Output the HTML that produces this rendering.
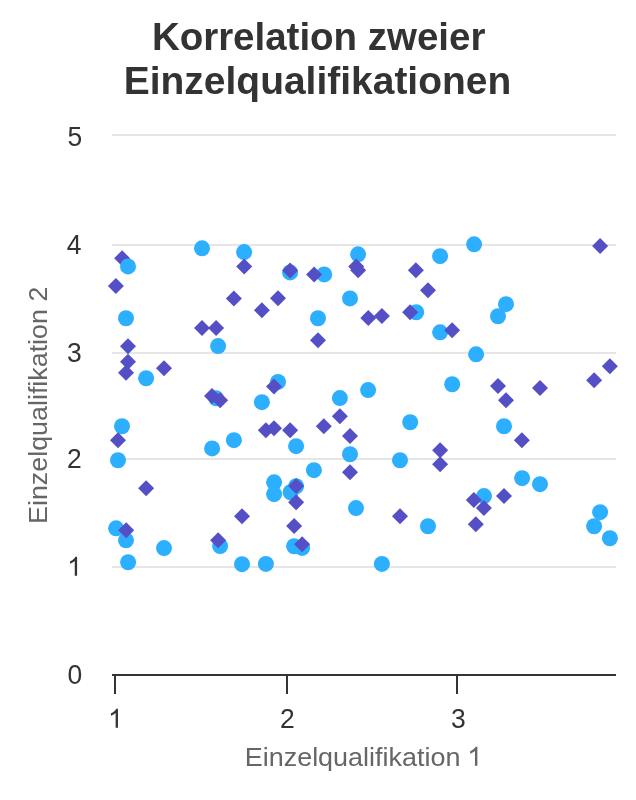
<!DOCTYPE html>
<html><head><meta charset="utf-8"><style>
html,body{margin:0;padding:0;background:#ffffff;width:636px;height:800px;overflow:hidden}
svg{display:block;will-change:transform}
</style></head><body>
<svg width="636" height="800" viewBox="0 0 636 800">
<rect width="636" height="800" fill="#ffffff"/>
<g fill="none" stroke="#e6e6e6" stroke-width="2">
<path d="M112 135H616"/>
<path d="M112 245H616"/>
<path d="M112 353H616"/>
<path d="M112 459H616"/>
<path d="M112 567H616"/>
</g>
<g fill="none" stroke="#333333" stroke-width="2">
<path d="M112 675H616"/>
<path d="M115 674V694"/>
<path d="M287 674V694"/>
<path d="M457 674V694"/>
</g>
<g fill="#544fc5"><path d="M122.1 250.25L130.1 258.25L122.1 266.25L114.1 258.25Z"/></g>
<g fill="#2caffe"><circle cx="202.0" cy="248.35" r="8"/><circle cx="244.1" cy="252.05" r="8"/><circle cx="126.0" cy="318.25" r="8"/><circle cx="218.1" cy="346.05" r="8"/><circle cx="290.1" cy="272.45" r="8"/><circle cx="324.2" cy="274.45" r="8"/><circle cx="358.1" cy="254.35" r="8"/><circle cx="350.0" cy="298.45" r="8"/><circle cx="318.0" cy="318.25" r="8"/><circle cx="474.1" cy="244.35" r="8"/><circle cx="440.1" cy="256.15" r="8"/><circle cx="416.2" cy="312.25" r="8"/><circle cx="506.0" cy="304.15" r="8"/><circle cx="498.0" cy="316.25" r="8"/><circle cx="440.1" cy="332.35" r="8"/><circle cx="146.1" cy="378.25" r="8"/><circle cx="216.1" cy="398.35" r="8"/><circle cx="122.0" cy="426.25" r="8"/><circle cx="212.1" cy="448.45" r="8"/><circle cx="233.9" cy="440.15" r="8"/><circle cx="278.0" cy="381.95" r="8"/><circle cx="261.9" cy="402.15" r="8"/><circle cx="296.1" cy="446.15" r="8"/><circle cx="339.9" cy="398.05" r="8"/><circle cx="368.1" cy="390.05" r="8"/><circle cx="350.0" cy="454.25" r="8"/><circle cx="410.2" cy="422.25" r="8"/><circle cx="476.1" cy="354.35" r="8"/><circle cx="452.2" cy="384.25" r="8"/><circle cx="504.0" cy="426.25" r="8"/><circle cx="118.0" cy="460.25" r="8"/><circle cx="116.1" cy="528.35" r="8"/><circle cx="126.0" cy="540.35" r="8"/><circle cx="164.0" cy="548.05" r="8"/><circle cx="128.1" cy="562.25" r="8"/><circle cx="220.1" cy="546.05" r="8"/><circle cx="242.0" cy="564.15" r="8"/><circle cx="313.9" cy="470.15" r="8"/><circle cx="274.1" cy="482.35" r="8"/><circle cx="274.1" cy="494.2" r="8"/><circle cx="296.1" cy="486.25" r="8"/><circle cx="290.6" cy="492.25" r="8"/><circle cx="294.1" cy="546.25" r="8"/><circle cx="302.1" cy="547.95" r="8"/><circle cx="400.0" cy="460.25" r="8"/><circle cx="356.0" cy="508.05" r="8"/><circle cx="265.9" cy="563.95" r="8"/><circle cx="381.9" cy="563.95" r="8"/><circle cx="428.0" cy="526.25" r="8"/><circle cx="522.1" cy="478.15" r="8"/><circle cx="540.0" cy="484.15" r="8"/><circle cx="484.0" cy="496.05" r="8"/><circle cx="600.1" cy="512.15" r="8"/><circle cx="594.1" cy="526.25" r="8"/><circle cx="609.9" cy="538.25" r="8"/><circle cx="128.0" cy="266.45" r="8"/></g>
<g fill="#544fc5"><path d="M244.2 258.45L252.2 266.45L244.2 274.45L236.2 266.45Z"/><path d="M115.9 278.05L123.9 286.05L115.9 294.05L107.9 286.05Z"/><path d="M233.9 290.45L241.9 298.45L233.9 306.45L225.9 298.45Z"/><path d="M202.0 320.05L210.0 328.05L202.0 336.05L194.0 328.05Z"/><path d="M216.1 320.05L224.1 328.05L216.1 336.05L208.1 328.05Z"/><path d="M128.0 338.25L136.0 346.25L128.0 354.25L120.0 346.25Z"/><path d="M290.1 262.45L298.1 270.45L290.1 278.45L282.1 270.45Z"/><path d="M314.1 266.45L322.1 274.45L314.1 282.45L306.1 274.45Z"/><path d="M356.2 258.55L364.2 266.55L356.2 274.55L348.2 266.55Z"/><path d="M358.1 262.35L366.1 270.35L358.1 278.35L350.1 270.35Z"/><path d="M278.0 290.15L286.0 298.15L278.0 306.15L270.0 298.15Z"/><path d="M261.9 302.25L269.9 310.25L261.9 318.25L253.9 310.25Z"/><path d="M368.3 310.05L376.3 318.05L368.3 326.05L360.3 318.05Z"/><path d="M381.9 308.05L389.9 316.05L381.9 324.05L373.9 316.05Z"/><path d="M318.0 332.25L326.0 340.25L318.0 348.25L310.0 340.25Z"/><path d="M415.9 262.25L423.9 270.25L415.9 278.25L407.9 270.25Z"/><path d="M428.0 282.15L436.0 290.15L428.0 298.15L420.0 290.15Z"/><path d="M410.1 304.35L418.1 312.35L410.1 320.35L402.1 312.35Z"/><path d="M452.1 322.25L460.1 330.25L452.1 338.25L444.1 330.25Z"/><path d="M600.1 238.05L608.1 246.05L600.1 254.05L592.1 246.05Z"/><path d="M128.0 353.65L136.0 361.65L128.0 369.65L120.0 361.65Z"/><path d="M126.0 364.65L134.0 372.65L126.0 380.65L118.0 372.65Z"/><path d="M164.0 360.15L172.0 368.15L164.0 376.15L156.0 368.15Z"/><path d="M212.0 388.05L220.0 396.05L212.0 404.05L204.0 396.05Z"/><path d="M220.1 392.15L228.1 400.15L220.1 408.15L212.1 400.15Z"/><path d="M118.0 432.15L126.0 440.15L118.0 448.15L110.0 440.15Z"/><path d="M274.0 378.55L282.0 386.55L274.0 394.55L266.0 386.55Z"/><path d="M265.9 422.25L273.9 430.25L265.9 438.25L257.9 430.25Z"/><path d="M274.0 420.25L282.0 428.25L274.0 436.25L266.0 428.25Z"/><path d="M290.1 422.25L298.1 430.25L290.1 438.25L282.1 430.25Z"/><path d="M323.8 418.25L331.8 426.25L323.8 434.25L315.8 426.25Z"/><path d="M339.9 408.25L347.9 416.25L339.9 424.25L331.9 416.25Z"/><path d="M350.0 428.05L358.0 436.05L350.0 444.05L342.0 436.05Z"/><path d="M498.0 378.05L506.0 386.05L498.0 394.05L490.0 386.05Z"/><path d="M506.0 392.15L514.0 400.15L506.0 408.15L498.0 400.15Z"/><path d="M540.0 380.05L548.0 388.05L540.0 396.05L532.0 388.05Z"/><path d="M521.9 432.15L529.9 440.15L521.9 448.15L513.9 440.15Z"/><path d="M440.1 442.15L448.1 450.15L440.1 458.15L432.1 450.15Z"/><path d="M609.9 358.15L617.9 366.15L609.9 374.15L601.9 366.15Z"/><path d="M594.1 372.25L602.1 380.25L594.1 388.25L586.1 380.25Z"/><path d="M146.1 480.25L154.1 488.25L146.1 496.25L138.1 488.25Z"/><path d="M126.2 522.25L134.2 530.25L126.2 538.25L118.2 530.25Z"/><path d="M218.1 532.25L226.1 540.25L218.1 548.25L210.1 540.25Z"/><path d="M242.0 508.15L250.0 516.15L242.0 524.15L234.0 516.15Z"/><path d="M296.1 478.05L304.1 486.05L296.1 494.05L288.1 486.05Z"/><path d="M296.1 494.35L304.1 502.35L296.1 510.35L288.1 502.35Z"/><path d="M294.1 518.05L302.1 526.05L294.1 534.05L286.1 526.05Z"/><path d="M302.1 536.2L310.1 544.2L302.1 552.2L294.1 544.2Z"/><path d="M350.0 464.15L358.0 472.15L350.0 480.15L342.0 472.15Z"/><path d="M400.0 508.15L408.0 516.15L400.0 524.15L392.0 516.15Z"/><path d="M440.1 456.35L448.1 464.35L440.1 472.35L432.1 464.35Z"/><path d="M473.8 492.05L481.8 500.05L473.8 508.05L465.8 500.05Z"/><path d="M483.9 500.05L491.9 508.05L483.9 516.05L475.9 508.05Z"/><path d="M504.0 488.05L512.0 496.05L504.0 504.05L496.0 496.05Z"/><path d="M475.8 516.15L483.8 524.15L475.8 532.15L467.8 524.15Z"/></g>
<g>
<text transform="translate(67.439,145.801) scale(1.00000,1.04700)" font-family="&quot;Liberation Sans&quot;, sans-serif" font-size="26.5" fill="#333333">5</text>
<text transform="translate(66.837,253.700) scale(1.00000,1.04700)" font-family="&quot;Liberation Sans&quot;, sans-serif" font-size="26.5" fill="#333333">4</text>
<text transform="translate(67.098,361.815) scale(1.00000,1.04700)" font-family="&quot;Liberation Sans&quot;, sans-serif" font-size="26.5" fill="#333333">3</text>
<text transform="translate(66.988,467.800) scale(1.00000,1.04700)" font-family="&quot;Liberation Sans&quot;, sans-serif" font-size="26.5" fill="#333333">2</text>
<path transform="translate(67.211,575.800) scale(1.00000,1.00000) scale(0.012939,-0.012939)" fill="#333333" d="M763 0L583 0L583 1147C540 1106 483 1065 413 1024C343 983 280 952 223 931L223 1120C321 1166 406 1221 480 1286C554 1351 606 1405 637 1466L763 1466Z"/>
<text transform="translate(67.510,683.836) scale(1.00000,1.04700)" font-family="&quot;Liberation Sans&quot;, sans-serif" font-size="26.5" fill="#333333">0</text>
<path transform="translate(108.086,727.800) scale(1.00000,1.00000) scale(0.012939,-0.012939)" fill="#333333" d="M763 0L583 0L583 1147C540 1106 483 1065 413 1024C343 983 280 952 223 931L223 1120C321 1166 406 1221 480 1286C554 1351 606 1405 637 1466L763 1466Z"/>
<text transform="translate(280.088,727.800) scale(1.00000,1.04700)" font-family="&quot;Liberation Sans&quot;, sans-serif" font-size="26.5" fill="#333333">2</text>
<text transform="translate(450.998,728.015) scale(1.00000,1.04700)" font-family="&quot;Liberation Sans&quot;, sans-serif" font-size="26.5" fill="#333333">3</text>
<text transform="translate(151.894,49.800) scale(1.00213,0.99630)" font-family="&quot;Liberation Sans&quot;, sans-serif" font-size="38.4" fill="#333333" font-weight="bold">Korrelation zweier</text>
<text transform="translate(123.756,93.800) scale(1.01469,0.98889)" font-family="&quot;Liberation Sans&quot;, sans-serif" font-size="38.4" fill="#333333" font-weight="bold">Einzelqualifikationen</text>
<text transform="translate(244.705,765.750) scale(1.01782,1.00000)" font-family="&quot;Liberation Sans&quot;, sans-serif" font-size="26.5" fill="#666666">Einzelqualifikation</text>
<path transform="translate(467.199,765.750) scale(1.03000,1.00000) scale(0.012939,-0.012939)" fill="#666666" d="M763 0L583 0L583 1147C540 1106 483 1065 413 1024C343 983 280 952 223 931L223 1120C321 1166 406 1221 480 1286C554 1351 606 1405 637 1466L763 1466Z"/>
<text transform="translate(47.000,523.986) rotate(-90) scale(1.01359,1.00000)" font-family="&quot;Liberation Sans&quot;, sans-serif" font-size="26.5" fill="#666666">Einzelqualifikation 2</text>
</g>
</svg>
</body></html>
